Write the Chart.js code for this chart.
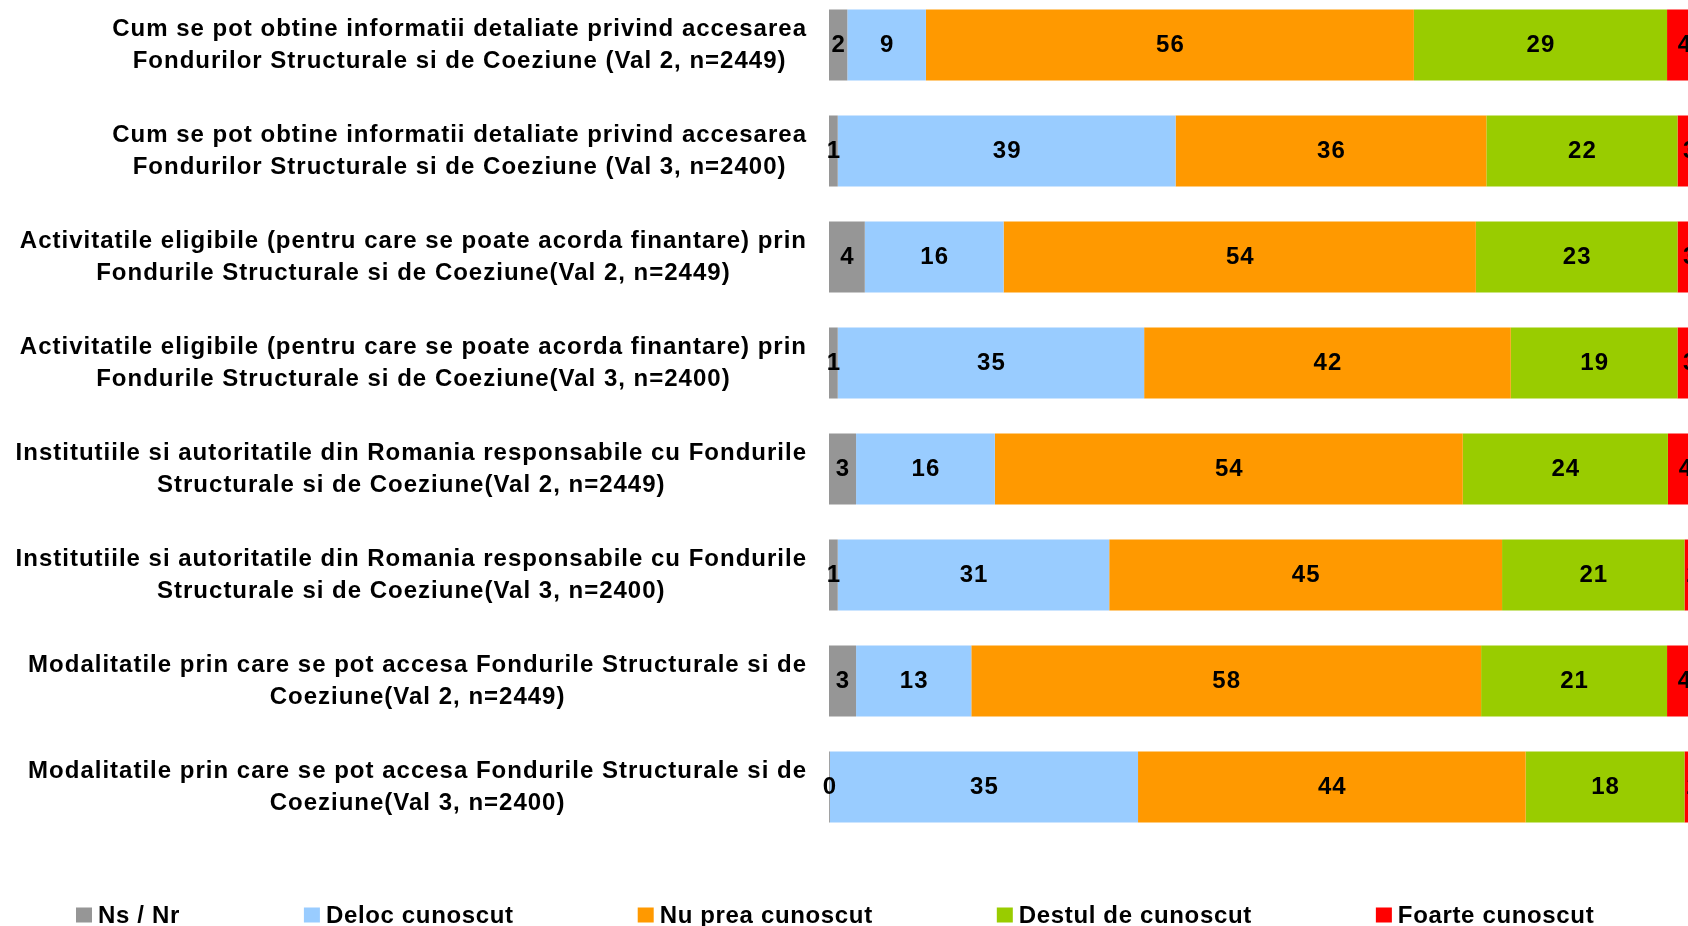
<!DOCTYPE html>
<html><head><meta charset="utf-8">
<script src="https://cdn.jsdelivr.net/npm/chart.js@4.4.1/dist/chart.umd.min.js"></script>
<style>
html,body{margin:0;padding:0;background:#fff;overflow:hidden;}
#wrap{position:relative;width:1688px;height:926px;overflow:hidden;background:#fff;}
#c{position:absolute;left:0;top:-8px;}
</style></head><body>
<div id="wrap"><canvas id="c" width="1688" height="934"></canvas></div>
<script>
const categories = [
  ["Cum se pot obtine informatii detaliate privind accesarea", "Fondurilor Structurale si de Coeziune (Val 2, n=2449)"],
  ["Cum se pot obtine informatii detaliate privind accesarea", "Fondurilor Structurale si de Coeziune (Val 3, n=2400)"],
  ["Activitatile eligibile (pentru care se poate acorda finantare) prin", "Fondurile Structurale si de Coeziune(Val 2, n=2449)"],
  ["Activitatile eligibile (pentru care se poate acorda finantare) prin", "Fondurile Structurale si de Coeziune(Val 3, n=2400)"],
  ["Institutiile si autoritatile din Romania responsabile cu Fondurile", "Structurale si de Coeziune(Val 2, n=2449)"],
  ["Institutiile si autoritatile din Romania responsabile cu Fondurile", "Structurale si de Coeziune(Val 3, n=2400)"],
  ["Modalitatile prin care se pot accesa Fondurile Structurale si de", "Coeziune(Val 2, n=2449)"],
  ["Modalitatile prin care se pot accesa Fondurile Structurale si de", "Coeziune(Val 3, n=2400)"]
];
const seriesNames = ["Ns / Nr", "Deloc cunoscut", "Nu prea cunoscut", "Destul de cunoscut", "Foarte cunoscut"];
// percentages (labels shown rounded)
const nsNr             = [2.1, 1.0, 4.1, 1.0, 3.1, 1.0, 3.1, 0.1];
const delocCunoscut    = [9.0, 38.7, 15.9, 35.1, 15.9, 31.1, 13.2, 35.3];
const nuPreaCunoscut   = [55.9, 35.6, 54.1, 42.0, 53.6, 45.0, 58.4, 44.4];
const destulDeCunoscut = [29.0, 21.9, 23.1, 19.1, 23.5, 20.9, 21.3, 18.2];
const foarteCunoscut   = [4.0, 2.8, 2.8, 2.8, 4.0, 2.0, 4.0, 2.0];
const seriesColors = ["#969696", "#99CCFF", "#FF9900", "#99CC00", "#FF0000"];

const FONT = 'bold 24px "Liberation Sans", Arial, sans-serif';
const LABEL_RIGHT = 807;
const LEGEND_X = 76;
const LEGEND_GAP = 124;

const textPlugin = {
  id: 'texts',
  beforeLayout(chart) { chart.ctx.letterSpacing = '1px'; },
  beforeDraw(chart) { chart.ctx.letterSpacing = '1px'; },
  afterDraw(chart) {
    const ctx = chart.ctx;
    ctx.save();
    ctx.letterSpacing = '1px';
    ctx.font = FONT;
    ctx.fillStyle = '#000';
    // value labels
    ctx.textAlign = 'center';
    ctx.textBaseline = 'middle';
    chart.data.datasets.forEach((ds, i) => {
      chart.getDatasetMeta(i).data.forEach((bar, j) => {
        const p = bar.getProps(['x', 'y', 'base'], true);
        ctx.fillText(String(Math.round(ds.data[j])), (p.x + p.base) / 2 + 0.5, p.y + 0.5);
      });
    });
    // category labels
    const ys = chart.scales.y;
    ctx.textBaseline = 'alphabetic';
    categories.forEach((lines, j) => {
      const cy = ys.getPixelForValue(j);
      const w = Math.max(...lines.map(l => ctx.measureText(l).width));
      const cx = LABEL_RIGHT - w / 2;
      lines.forEach((l, k) => ctx.fillText(l, cx, cy - 9 + k * 32));
    });
    // legend
    ctx.letterSpacing = '0.65px';
    ctx.textAlign = 'left';
    let x = LEGEND_X;
    const ly = 930.5;
    chart.data.datasets.forEach((ds) => {
      ctx.fillStyle = ds.backgroundColor;
      ctx.fillRect(x, ly - 15, 16, 15);
      ctx.fillStyle = '#000';
      ctx.fillText(ds.label, x + 22, ly);
      x += 22 + ctx.measureText(ds.label).width + LEGEND_GAP;
    });
    ctx.restore();
  }
};

const seriesData = [nsNr, delocCunoscut, nuPreaCunoscut, destulDeCunoscut, foarteCunoscut];
new Chart(document.getElementById('c'), {
  type: 'bar',
  data: {
    labels: categories.map(c => c.join(' ')),
    datasets: seriesNames.map((name, i) => ({
      label: name,
      data: seriesData[i],
      backgroundColor: seriesColors[i],
      borderWidth: 0,
      barPercentage: 0.67,
      categoryPercentage: 1
    }))
  },
  options: {
    indexAxis: 'y',
    responsive: false,
    animation: false,
    layout: { padding: { left: 829, right: 0, top: 0, bottom: 86 } },
    plugins: { legend: { display: false }, tooltip: { enabled: false } },
    scales: {
      x: { stacked: true, min: 0, max: 98.4, display: false },
      y: { stacked: true, display: false }
    }
  },
  plugins: [textPlugin]
});
</script>
</body></html>
